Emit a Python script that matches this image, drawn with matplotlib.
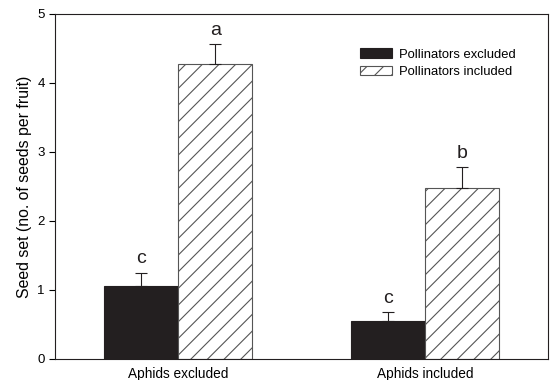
import matplotlib
matplotlib.use("Agg")
import matplotlib.pyplot as plt
import numpy as np

plt.rcParams['font.family'] = ['Liberation Sans', 'DejaVu Sans']
plt.rcParams['hatch.linewidth'] = 0.8

groups = ["Aphids excluded", "Aphids included"]
series = ["Pollinators excluded", "Pollinators included"]
excl_vals = [1.06, 0.55]
excl_err = [0.19, 0.13]
incl_vals = [4.28, 2.48]
incl_err = [0.28, 0.30]
excl_letters = ["c", "c"]
incl_letters = ["a", "b"]

fig = plt.figure(figsize=(5.5, 3.8), dpi=100)
ax = fig.add_axes([0.1, 0.0553, 0.8964, 0.9079])

x = np.arange(len(groups))
w = 0.3
dark = "#231f20"
ekw = dict(ecolor=dark, elinewidth=0.8, capsize=4, capthick=0.8)
ax.bar(x - w/2, excl_vals, w, color=dark, edgecolor=dark, linewidth=0.8,
       yerr=[np.zeros(2), excl_err], error_kw=ekw, label=series[0])
ax.bar(x + w/2, incl_vals, w, color="white", edgecolor="#555555", hatch="//", linewidth=0.8,
       yerr=[np.zeros(2), incl_err], error_kw=ekw, label=series[1])

for i in range(len(groups)):
    ax.text(x[i] - w/2, excl_vals[i] + excl_err[i] + 0.08, excl_letters[i], ha="center", va="bottom", fontsize=14, color=dark)
    ax.text(x[i] + w/2, incl_vals[i] + incl_err[i] + 0.08, incl_letters[i], ha="center", va="bottom", fontsize=14, color=dark)

ax.set_xlim(-0.5, 1.5)
ax.set_ylim(0, 5)
ax.set_yticks([0, 1, 2, 3, 4, 5])
ax.set_xticks(x)
ax.set_xticklabels(groups, fontsize=9.8)
ax.tick_params(axis='x', length=0, pad=6)
ax.tick_params(axis='y', labelsize=9.5, direction='out', length=4, width=0.8)
ax.set_ylabel("Seed set (no. of seeds per fruit)", fontsize=11.4)
for s in ax.spines.values():
    s.set_linewidth(0.8)
    s.set_color(dark)

ax.legend(loc="upper left", bbox_to_anchor=(0.6187, 0.90), frameon=False, fontsize=9.4,
          borderpad=0, borderaxespad=0,
          handlelength=2.45, handleheight=0.7, handletextpad=0.55, labelspacing=0.38)

fig.savefig("out.png", dpi=100)
